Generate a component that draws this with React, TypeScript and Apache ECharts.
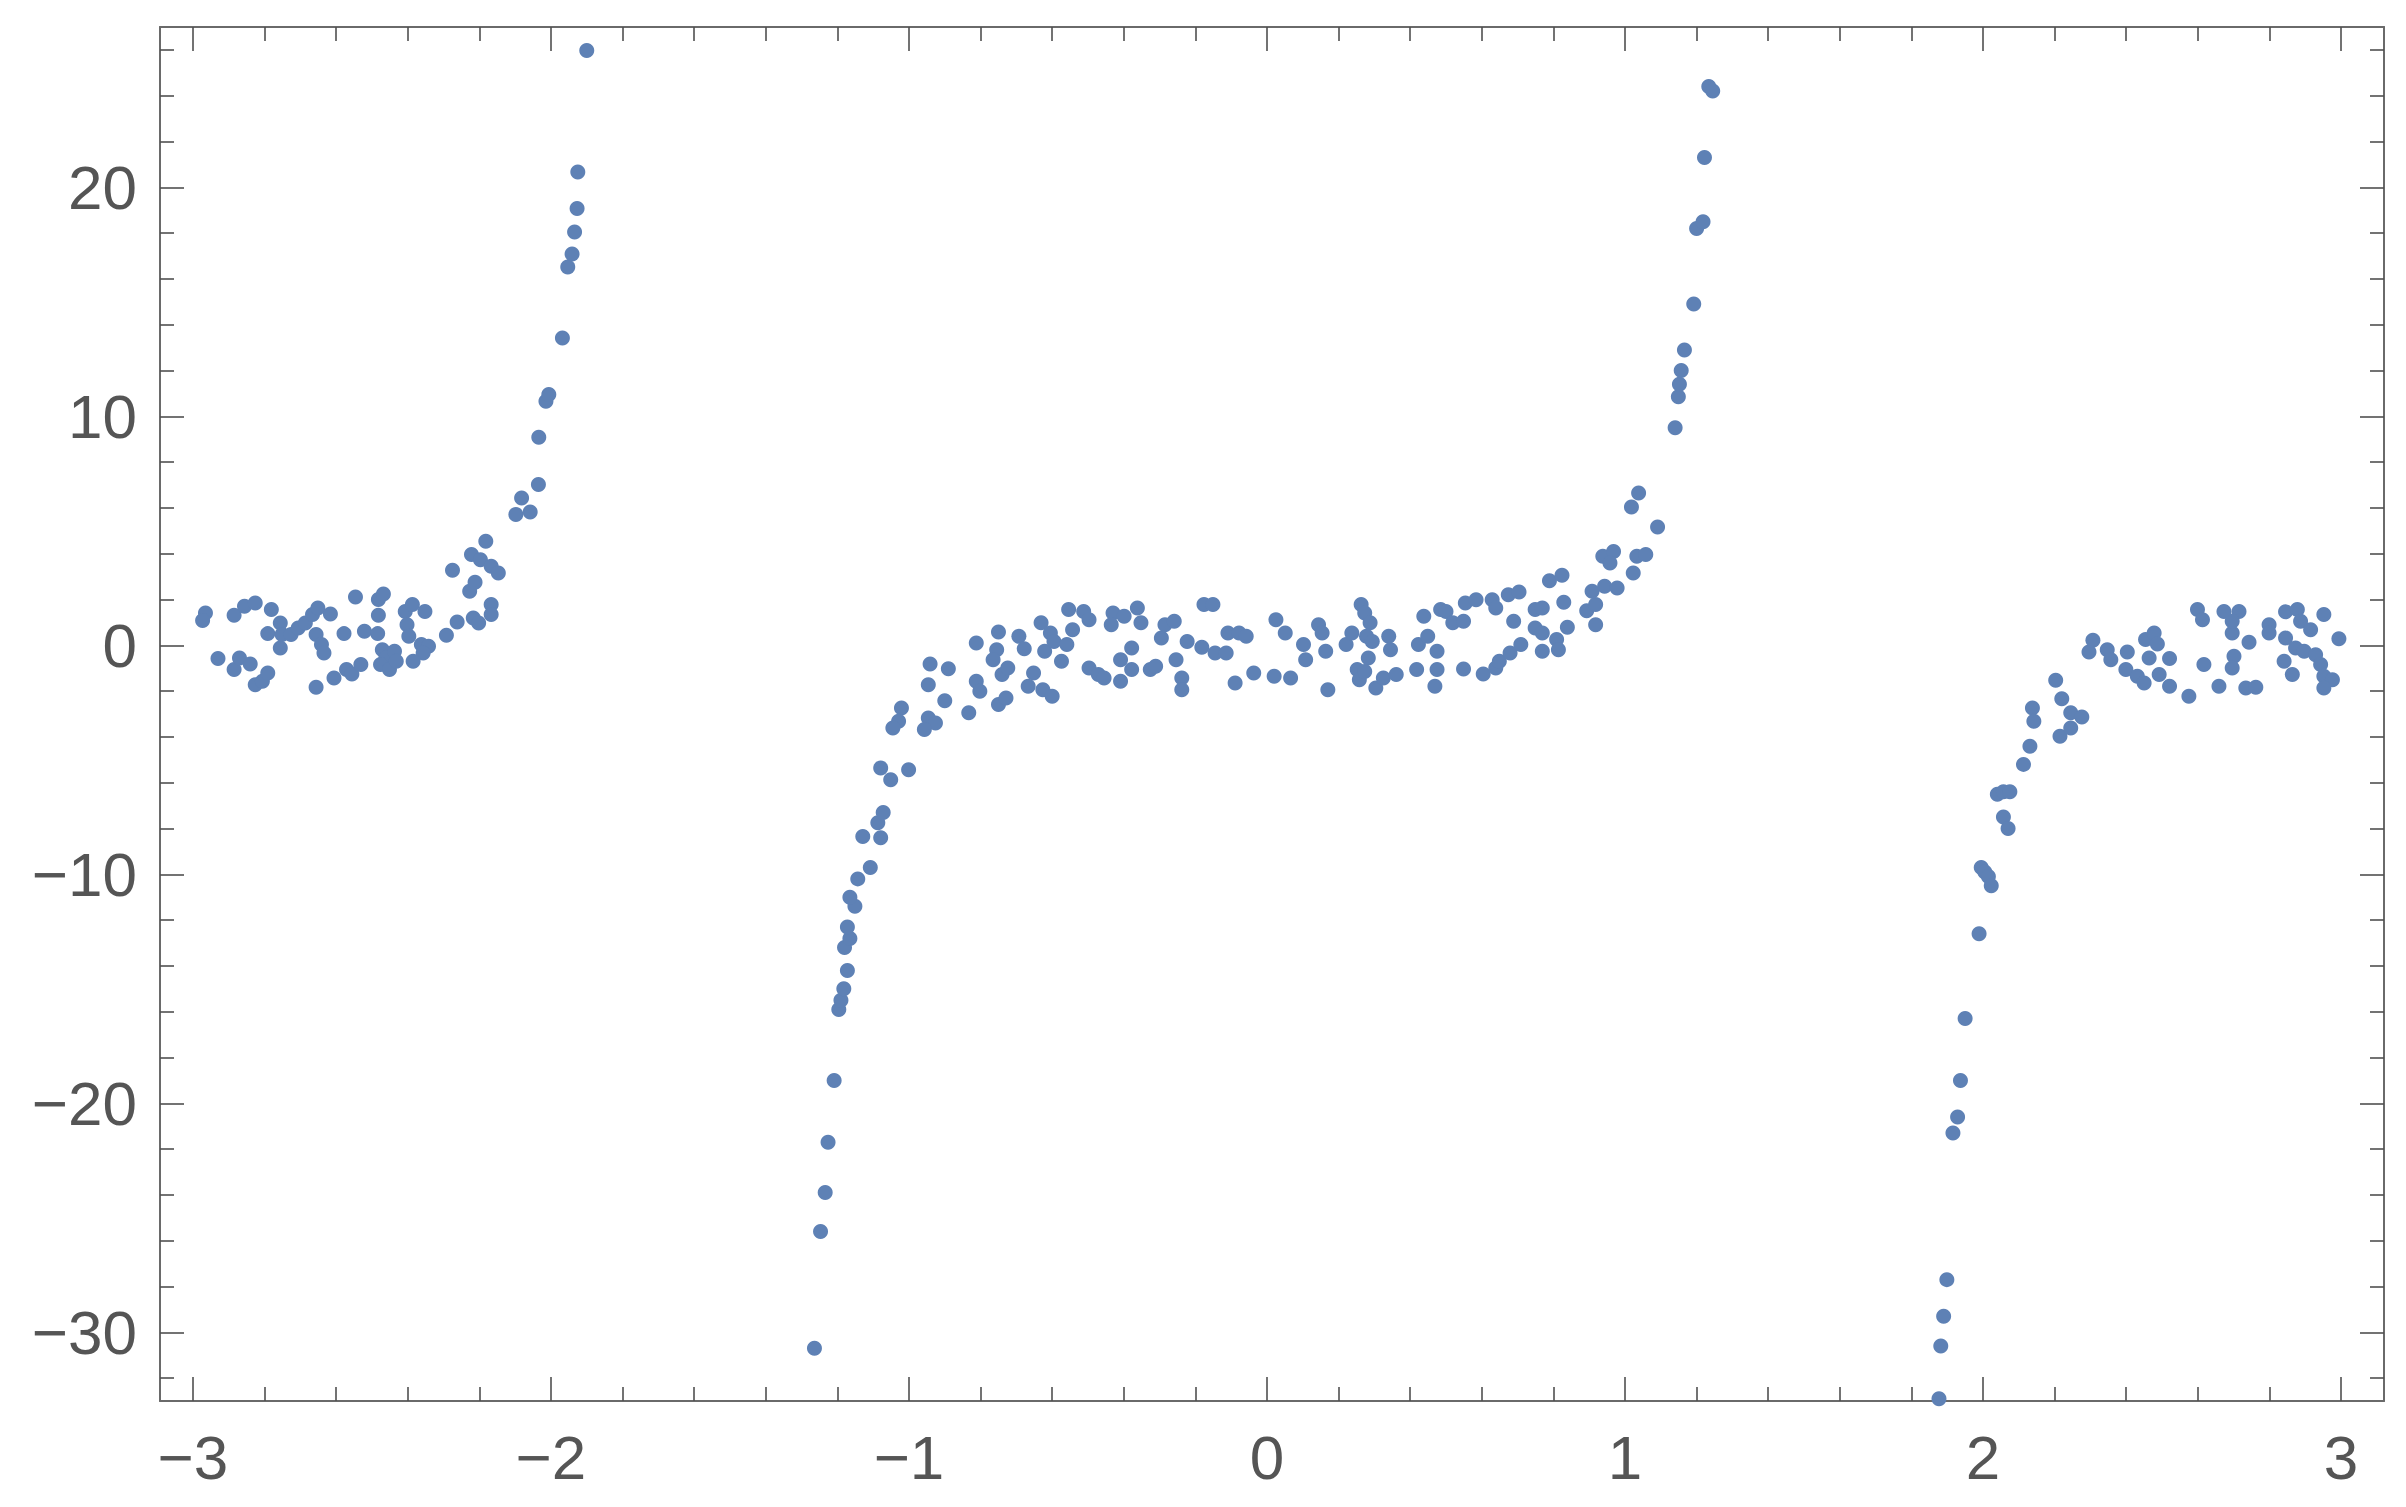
import React, { useEffect, useRef } from "react";
import * as echarts from "echarts";

// ---- axis ranges & ticks ----
const X_MIN = -3.092;
const X_MAX = 3.12;
const Y_MIN = -33;
const Y_MAX = 27;

const xMajorTicks = [-3, -2, -1, 0, 1, 2, 3];
const xMinorTicks = [
  -2.8, -2.6, -2.4, -2.2, -1.8, -1.6, -1.4, -1.2, -0.8, -0.6, -0.4, -0.2,
  0.2, 0.4, 0.6, 0.8, 1.2, 1.4, 1.6, 1.8, 2.2, 2.4, 2.6, 2.8,
];
const yMajorTicks = [-30, -20, -10, 0, 10, 20];
const yMinorTicks = [
  -32, -28, -26, -24, -22, -18, -16, -14, -12, -8, -6, -4, -2, 2, 4, 6, 8,
  12, 14, 16, 18, 22, 24, 26,
];

// ---- data ([x, y]) ----
const leftCluster: [number, number][] = [
  [-2.965, 1.41], [-2.973, 1.08], [-2.93, -0.58], [-2.885, 1.31], [-2.856, 1.7],
  [-2.826, 1.85], [-2.781, 1.56], [-2.885, -1.06], [-2.87, -0.55], [-2.84, -0.82],
  [-2.826, -1.72], [-2.806, -1.57], [-2.791, -1.21], [-2.791, 0.51], [-2.756, 0.97],
  [-2.751, 0.47], [-2.756, -0.12], [-2.726, 0.47], [-2.706, 0.76], [-2.686, 0.97],
  [-2.666, 1.34], [-2.651, 1.63], [-2.616, 1.37], [-2.656, 0.47], [-2.641, 0.03],
  [-2.634, -0.34], [-2.656, -1.83], [-2.606, -1.43], [-2.571, -1.06], [-2.556, -1.25],
  [-2.531, -0.84], [-2.578, 0.51], [-2.546, 2.11], [-2.521, 0.61], [-2.482, 2.0],
  [-2.468, 2.24], [-2.482, 1.31], [-2.484, 0.51], [-2.471, -0.19], [-2.461, -0.55],
  [-2.476, -0.84], [-2.451, -1.06], [-2.437, -0.26], [-2.432, -0.7], [-2.407, 1.48],
  [-2.387, 1.78], [-2.352, 1.48], [-2.402, 0.9], [-2.397, 0.39], [-2.362, 0.03],
  [-2.342, -0.04], [-2.357, -0.34], [-2.385, -0.7], [-2.292, 0.44], [-2.262, 1.02],
  [-2.217, 1.19], [-2.202, 0.97], [-2.167, 1.78], [-2.167, 1.34], [-2.227, 2.36],
  [-2.212, 2.75], [-2.275, 3.28], [-2.222, 3.96], [-2.197, 3.74], [-2.182, 4.54],
  [-2.167, 3.45], [-2.147, 3.16], [-2.098, 5.71], [-2.082, 6.43], [-2.058, 5.82],
  [-2.035, 7.02],
];

const leftRise: [number, number][] = [
  [-2.034, 9.08], [-2.014, 10.66], [-2.006, 10.95], [-1.968, 13.42], [-1.953, 16.52],
  [-1.941, 17.09], [-1.934, 18.05], [-1.927, 19.07], [-1.925, 20.67], [-1.9, 25.97],
];

const middleDrop: [number, number][] = [
  [-1.264, -30.7], [-1.247, -25.6], [-1.234, -23.9], [-1.226, -21.7], [-1.209, -19.0],
  [-1.196, -15.9], [-1.19, -15.5], [-1.182, -15.0], [-1.172, -14.2], [-1.18, -13.2],
  [-1.165, -12.8], [-1.172, -12.3], [-1.151, -11.4], [-1.165, -11.0], [-1.143, -10.2],
  [-1.108, -9.7], [-1.129, -8.35], [-1.079, -8.4], [-1.087, -7.75], [-1.072, -7.3],
  [-1.079, -5.36], [-1.051, -5.87], [-1.001, -5.43],
];

const middleCluster: [number, number][] = [
  [-1.021, -2.74], [-1.029, -3.32], [-1.045, -3.61], [-0.946, -3.17], [-0.926, -3.39],
  [-0.957, -3.68], [-0.941, -0.82], [-0.89, -1.02], [-0.946, -1.72], [-0.9, -2.42],
  [-0.833, -2.95], [-0.812, 0.1], [-0.75, 0.58], [-0.755, -0.19], [-0.765, -0.63],
  [-0.693, 0.39], [-0.678, -0.15], [-0.812, -1.57], [-0.802, -2.01], [-0.74, -1.28],
  [-0.724, -0.99], [-0.75, -2.59], [-0.729, -2.3], [-0.667, -1.79], [-0.652, -1.21],
  [-0.626, -1.94], [-0.6, -2.23], [-0.631, 0.98], [-0.605, 0.54], [-0.621, -0.26],
  [-0.595, 0.17], [-0.574, -0.7], [-0.559, 0.03], [-0.543, 0.68], [-0.554, 1.56],
  [-0.512, 1.48], [-0.497, 1.12], [-0.497, -0.99], [-0.471, -1.28], [-0.455, -1.43],
  [-0.43, 1.41], [-0.435, 0.9], [-0.399, 1.27], [-0.362, 1.63], [-0.352, 0.98],
  [-0.378, -0.12], [-0.409, -0.63], [-0.409, -1.57], [-0.378, -1.06], [-0.326, -1.06],
  [-0.311, -0.92], [-0.295, 0.32], [-0.285, 0.9], [-0.259, 1.05], [-0.254, -0.63],
  [-0.238, -1.43], [-0.238, -1.94], [-0.223, 0.17], [-0.182, -0.09], [-0.145, -0.34],
  [-0.114, -0.34], [-0.176, 1.78], [-0.151, 1.78], [-0.109, 0.54], [-0.078, 0.54],
  [-0.058, 0.39], [-0.089, -1.65], [-0.037, -1.21], [0.02, -1.35], [0.066, -1.43],
  [0.025, 1.12], [0.051, 0.54], [0.102, 0.03], [0.108, -0.63], [0.144, 0.9],
  [0.154, 0.54], [0.164, -0.26], [0.17, -1.94], [0.221, 0.03], [0.237, 0.54],
  [0.263, 1.78], [0.273, 1.41], [0.288, 0.98], [0.278, 0.39], [0.294, 0.17],
  [0.283, -0.55], [0.252, -1.06], [0.258, -1.5], [0.273, -1.14], [0.304, -1.86],
  [0.325, -1.43], [0.361, -1.28], [0.34, 0.39], [0.345, -0.19], [0.418, -1.06],
  [0.423, 0.03], [0.438, 1.27], [0.449, 0.39], [0.475, -0.26], [0.475, -1.06],
  [0.469, -1.79], [0.485, 1.56], [0.5, 1.48],
];

const middleRise: [number, number][] = [
  [0.519, 0.98], [0.549, 1.05], [0.549, -1.03], [0.604, -1.25], [0.639, -0.99],
  [0.649, -0.7], [0.679, -0.34], [0.709, 0.03], [0.554, 1.85], [0.584, 1.99],
  [0.629, 1.99], [0.639, 1.63], [0.674, 2.21], [0.704, 2.33], [0.689, 1.05],
  [0.749, 1.56], [0.769, 1.63], [0.749, 0.76], [0.769, 0.54], [0.769, -0.26],
  [0.809, 0.25], [0.814, -0.19], [0.839, 0.79], [0.829, 1.88], [0.789, 2.82],
  [0.824, 3.06], [0.893, 1.51], [0.918, 1.78], [0.908, 2.36], [0.943, 2.58],
  [0.978, 2.5], [0.918, 0.9], [0.938, 3.89], [0.968, 4.1], [0.958, 3.59],
  [1.023, 3.16], [1.033, 3.89], [1.058, 3.96], [1.018, 6.04], [1.038, 6.65],
  [1.091, 5.17],
];

const middleTop: [number, number][] = [
  [1.14, 9.5], [1.149, 10.85], [1.152, 11.4], [1.157, 12.0], [1.166, 12.9],
  [1.192, 14.9], [1.2, 18.2], [1.218, 18.5], [1.222, 21.3], [1.234, 24.4],
  [1.245, 24.2],
];

const rightDrop: [number, number][] = [
  [1.877, -32.9], [1.882, -30.6], [1.89, -29.3], [1.899, -27.7], [1.916, -21.3],
  [1.929, -20.6], [1.937, -19.0], [1.95, -16.3], [1.989, -12.6], [1.995, -9.7],
  [2.005, -9.9], [2.015, -10.1], [2.023, -10.5], [2.04, -6.5], [2.057, -6.4],
  [2.075, -6.4], [2.057, -7.5], [2.07, -8.0], [2.113, -5.2],
];

const rightCluster: [number, number][] = [
  [2.131, -4.41], [2.138, -2.74], [2.142, -3.32], [2.203, -1.53], [2.22, -2.33],
  [2.245, -2.95], [2.276, -3.13], [2.215, -3.97], [2.245, -3.61], [2.296, -0.29],
  [2.307, 0.22], [2.347, -0.19], [2.357, -0.63], [2.403, -0.29], [2.399, -1.06],
  [2.431, -1.35], [2.45, -1.65], [2.454, 0.25], [2.478, 0.54], [2.487, 0.06],
  [2.464, -0.55], [2.492, -1.28], [2.521, -0.58], [2.521, -1.79], [2.575, -2.23],
  [2.599, 1.56], [2.613, 1.12], [2.617, -0.84], [2.659, -1.79], [2.673, 1.48],
  [2.715, 1.48], [2.696, 0.54], [2.696, 1.05], [2.701, -0.48], [2.696, -0.99],
  [2.743, 0.13], [2.734, -1.86], [2.762, -1.83], [2.799, 0.9], [2.799, 0.54],
  [2.841, -0.7], [2.864, -1.28], [2.845, 1.46], [2.878, 1.56], [2.887, 1.05],
  [2.915, 0.68], [2.952, 1.34], [2.994, 0.29], [2.845, 0.32], [2.873, -0.12],
  [2.897, -0.26], [2.929, -0.41], [2.943, -0.84], [2.952, -1.35], [2.976, -1.5],
  [2.952, -1.86],
];

const allPoints = [
  ...leftCluster,
  ...leftRise,
  ...middleDrop,
  ...middleCluster,
  ...middleRise,
  ...middleTop,
  ...rightDrop,
  ...rightCluster,
];

const LABEL_COLOR = "#555555";
const FRAME_COLOR = "#6a6a6a";
const TICK_COLOR = "#505050";
const DOT_COLOR = "#5E81B5";
const FONT = "'Liberation Sans', Arial, 'DejaVu Sans', sans-serif";
const MAJOR_LEN = 24;
const MINOR_LEN = 14;

const fmt = (v: number) => String(v).replace("-", "\u2212");

function mkX(position: string, ticks: number[], len: number, labels: boolean, line: boolean) {
  return {
    type: "value",
    gridIndex: 0,
    position,
    min: X_MIN,
    max: X_MAX,
    axisLine: { show: line, onZero: false, lineStyle: { color: FRAME_COLOR, width: 2 } },
    axisTick: {
      show: true,
      inside: true,
      length: len,
      customValues: ticks,
      lineStyle: { color: TICK_COLOR, width: 1.6 },
    },
    axisLabel: labels
      ? {
          show: true,
          customValues: ticks,
          formatter: fmt,
          color: LABEL_COLOR,
          fontSize: 62,
          fontFamily: FONT,
          margin: 25,
        }
      : { show: false },
    splitLine: { show: false },
  };
}

function mkY(position: string, ticks: number[], len: number, labels: boolean, line: boolean) {
  return {
    type: "value",
    gridIndex: 0,
    position,
    min: Y_MIN,
    max: Y_MAX,
    axisLine: { show: line, onZero: false, lineStyle: { color: FRAME_COLOR, width: 2 } },
    axisTick: {
      show: true,
      inside: true,
      length: len,
      customValues: ticks,
      lineStyle: { color: TICK_COLOR, width: 1.6 },
    },
    axisLabel: labels
      ? {
          show: true,
          customValues: ticks,
          formatter: fmt,
          color: LABEL_COLOR,
          fontSize: 62,
          fontFamily: FONT,
          margin: 23,
        }
      : { show: false },
    splitLine: { show: false },
  };
}

export default function App() {
  const ref = useRef<HTMLDivElement>(null);

  useEffect(() => {
    if (!ref.current) return;
    const chart = echarts.init(ref.current, null, { renderer: "svg" });
    chart.setOption({
      animation: false,
      backgroundColor: "#ffffff",
      grid: {
        left: 160,
        right: 22,
        top: 27,
        bottom: 106,
        containLabel: false,
        outerBoundsMode: "none",
      },
      xAxis: [
        mkX("bottom", xMajorTicks, MAJOR_LEN, true, true),
        mkX("bottom", xMinorTicks, MINOR_LEN, false, false),
        mkX("top", xMajorTicks, MAJOR_LEN, false, true),
        mkX("top", xMinorTicks, MINOR_LEN, false, false),
      ],
      yAxis: [
        mkY("left", yMajorTicks, MAJOR_LEN, true, true),
        mkY("left", yMinorTicks, MINOR_LEN, false, false),
        mkY("right", yMajorTicks, MAJOR_LEN, false, true),
        mkY("right", yMinorTicks, MINOR_LEN, false, false),
      ],
      series: [
        {
          type: "scatter",
          xAxisIndex: 0,
          yAxisIndex: 0,
          data: allPoints,
          symbol: "circle",
          symbolSize: 15,
          itemStyle: { color: DOT_COLOR, opacity: 1 },
          emphasis: { disabled: true },
        },
      ],
    });
    return () => chart.dispose();
  }, []);

  return (
    <div
      ref={ref}
      style={{
        position: "fixed",
        left: 0,
        top: 0,
        width: "2406px",
        height: "1507px",
        background: "#ffffff",
      }}
    />
  );
}
